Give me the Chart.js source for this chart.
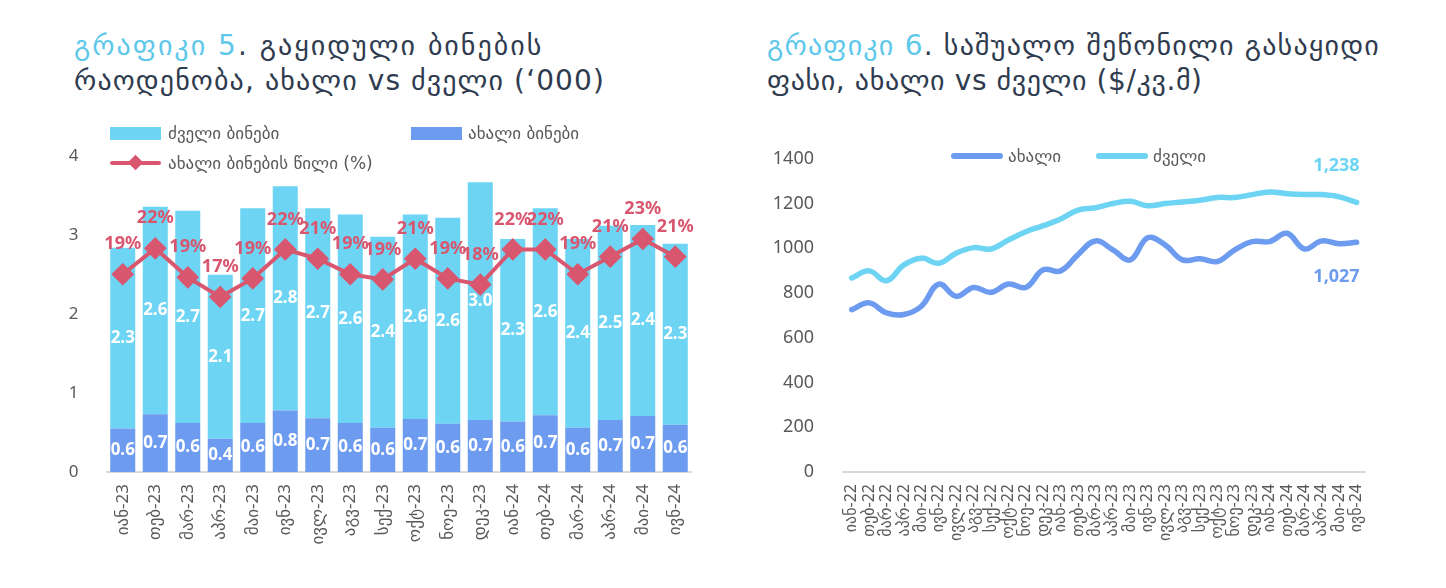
<!DOCTYPE html>
<html lang="ka">
<head>
    <meta charset="UTF-8">
    <title>გაყიდული ბინები და ფასი</title>
    <script src="https://cdn.jsdelivr.net/npm/chart.js"></script>
    <style>
        body { margin: 0; background: #fff; font-family: 'DejaVu Sans', sans-serif; }
        .page { position: relative; width: 1446px; height: 588px; overflow: hidden; }
        .title { position: absolute; font-size: 28px; line-height: 35px; color: #2f3b4f; white-space: nowrap; }
        .title .hl { color: #5ec8ea; }
        .lg { position: absolute; font-size: 17px; color: #595959; white-space: nowrap; line-height: 20px; }
        .sw { position: absolute; }
        canvas { position: absolute; }
    </style>
</head>
<body>
<div class="page">
    <div class="title" style="left:74px; top:28px;"><span style="letter-spacing:2px;"><span class="hl">გრაფიკი 5</span>. გაყიდული ბინების</span><br><span style="letter-spacing:1.1px;">რაოდენობა, ახალი vs ძველი (‘000)</span></div>
    <div class="title" style="left:767px; top:28px;"><span style="letter-spacing:1.2px;"><span class="hl">გრაფიკი 6</span>. საშუალო შეწონილი გასაყიდი</span><br><span style="letter-spacing:0.6px;">ფასი, ახალი vs ძველი ($/კვ.მ)</span></div>

    <canvas id="chart5" width="648" height="454" style="left:60px; top:126px;"></canvas>
    <canvas id="chart6" width="618" height="453" style="left:770px; top:127px;"></canvas>

    <!-- legend, chart 5 -->
    <div class="sw" style="left:110px; top:127px; width:51px; height:13px; background:#6dd4f3;"></div>
    <div class="lg" style="left:168px; top:123px;">ძველი ბინები</div>
    <div class="sw" style="left:411px; top:127px; width:51px; height:13px; background:#6c9bef;"></div>
    <div class="lg" style="left:468px; top:123px;">ახალი ბინები</div>
    <div class="sw" style="left:110px; top:161px; width:51px; height:4px; background:#d9566f; border-radius:2px;"></div>
    <div class="sw" style="left:130px; top:157px; width:11px; height:11px; background:#d9566f; transform:rotate(45deg);"></div>
    <div class="lg" style="left:168px; top:153px;">ახალი ბინების წილი (%)</div>

    <!-- legend, chart 6 -->
    <div class="sw" style="left:951px; top:153px; width:52px; height:6px; background:#6c9bef; border-radius:3px;"></div>
    <div class="lg" style="left:1008px; top:146px;">ახალი</div>
    <div class="sw" style="left:1096px; top:153px; width:52px; height:6px; background:#6dd4f3; border-radius:3px;"></div>
    <div class="lg" style="left:1153px; top:146px;">ძველი</div>
</div>
<script>
    // გრაფიკი 5 — გაყიდული ბინები ('000)
    const months5 = ['იან-23','თებ-23','მარ-23','აპრ-23','მაი-23','ივნ-23','ივლ-23','აგვ-23','სექ-23','ოქტ-23','ნოე-23','დეკ-23',
                     'იან-24','თებ-24','მარ-24','აპრ-24','მაი-24','ივნ-24'];
    const newFlats = [0.55, 0.73, 0.62, 0.42, 0.62, 0.78, 0.68, 0.62, 0.56, 0.67, 0.61, 0.66, 0.64, 0.72, 0.56, 0.66, 0.71, 0.60];
    const oldFlats = [2.29, 2.63, 2.69, 2.08, 2.72, 2.84, 2.66, 2.64, 2.42, 2.59, 2.61, 3.01, 2.31, 2.62, 2.39, 2.46, 2.42, 2.29];
    const newShare = [19.1, 21.6, 18.8, 16.9, 18.7, 21.5, 20.6, 19.1, 18.6, 20.6, 18.7, 18.1, 21.5, 21.5, 19.1, 20.8, 22.5, 20.8];
    const ticks5 = [0, 1, 2, 3, 4];

    // გრაფიკი 6 — საშუალო ფასი ($/კვ.მ)
    const months6 = ['იან-22','თებ-22','მარ-22','აპრ-22','მაი-22','ივნ-22','ივლ-22','აგვ-22','სექ-22','ოქტ-22','ნოე-22','დეკ-22',
                     'იან-23','თებ-23','მარ-23','აპრ-23','მაი-23','ივნ-23','ივლ-23','აგვ-23','სექ-23','ოქტ-23','ნოე-23','დეკ-23',
                     'იან-24','თებ-24','მარ-24','აპრ-24','მაი-24','ივნ-24'];
    const priceNew = [726, 756, 711, 704, 741, 840, 785, 825, 803, 840, 825, 904, 899, 972, 1033, 993, 948, 1047, 1015, 948,
                      953, 941, 993, 1030, 1030, 1067, 997, 1033, 1020, 1027];
    const priceOld = [867, 899, 855, 926, 956, 933, 978, 1003, 997, 1037, 1074, 1101, 1131, 1171, 1181, 1200, 1210, 1190, 1200, 1207,
                      1215, 1227, 1227, 1240, 1252, 1244, 1240, 1240, 1230, 1205];
    const endLabels = ['1,027', '1,238'];
    const ticks6 = [0, 200, 400, 600, 800, 1000, 1200, 1400];

    const FONT = "'Noto Sans', 'DejaVu Sans', sans-serif";
    const GREY = '#595959';
    const C_NEW = '#6c9bef', C_OLD = '#6dd4f3', C_SHARE = '#d9566f';

    Chart.defaults.devicePixelRatio = 1;
    Chart.defaults.animation = false;

    const xAxis = (h, size) => ({
        grid: { display: false, drawTicks: false },
        border: { display: true, color: '#d9d9d9', width: 2 },
        ticks: { color: GREY, font: { family: FONT, size: size }, minRotation: 90, maxRotation: 90, autoSkip: false, padding: 12 },
        afterFit: s => { s.height = h; }
    });

    // data labels: centred on bar segments, above the share line
    const barLabels = {
        id: 'barLabels',
        afterDatasetsDraw(chart) {
            const ctx = chart.ctx;
            ctx.save();
            ctx.textAlign = 'center';
            ctx.textBaseline = 'middle';
            chart.data.datasets.forEach((ds, i) => {
                const meta = chart.getDatasetMeta(i);
                meta.data.forEach((el, j) => {
                    const v = ds.data[j];
                    if (ds.type === 'line') {
                        ctx.fillStyle = C_SHARE;
                        ctx.font = 'bold 18px ' + FONT;
                        ctx.fillText(Math.round(v) + '%', el.x, el.y - 30);
                    } else {
                        ctx.fillStyle = '#fff';
                        ctx.font = 'bold 17px ' + FONT;
                        ctx.fillText(v.toFixed(1), el.x, (el.y + el.base) / 2);
                    }
                });
            });
            ctx.restore();
        }
    };

    new Chart(document.getElementById('chart5'), {
        data: {
            labels: months5,
            datasets: [
                { type: 'line', label: 'ახალი ბინების წილი (%)', data: newShare, yAxisID: 'y2', order: -1,
                  borderColor: C_SHARE, backgroundColor: C_SHARE, borderWidth: 4, pointStyle: 'rectRot', pointRadius: 8.5, tension: 0 },
                { type: 'bar', label: 'ახალი ბინები', data: newFlats, backgroundColor: C_NEW, stack: 's', barPercentage: 0.77, categoryPercentage: 1 },
                { type: 'bar', label: 'ძველი ბინები', data: oldFlats, backgroundColor: C_OLD, stack: 's', barPercentage: 0.77, categoryPercentage: 1 }
            ]
        },
        options: {
            responsive: false,
            layout: { padding: { top: 20, right: 9, left: 0, bottom: 0 } },
            plugins: { legend: { display: false }, tooltip: { enabled: false } },
            scales: {
                x: Object.assign(xAxis(108, 17), { stacked: true }),
                y: {
                    stacked: true, min: 0, max: 4,
                    grid: { display: false }, border: { display: false },
                    afterBuildTicks: s => { s.ticks = ticks5.map(v => ({ value: v })); },
                    ticks: { color: GREY, font: { family: FONT, size: 17 }, padding: 20 },
                    afterFit: s => { s.width = 46.5; }
                },
                y2: { display: false, min: 0, max: 30.5 }
            }
        },
        plugins: [barLabels]
    });

    // last-value labels on the price lines
    const endValueLabels = {
        id: 'endValueLabels',
        afterDatasetsDraw(chart) {
            const ctx = chart.ctx;
            ctx.save();
            ctx.textAlign = 'right';
            ctx.textBaseline = 'middle';
            ctx.font = 'bold 18px ' + FONT;
            chart.data.datasets.forEach((ds, i) => {
                const pts = chart.getDatasetMeta(i).data;
                const last = pts[pts.length - 1];
                ctx.fillStyle = ds.borderColor;
                ctx.fillText(endLabels[i], last.x + 3, i === 0 ? last.y + 35 : last.y - 37);
            });
            ctx.restore();
        }
    };

    new Chart(document.getElementById('chart6'), {
        type: 'line',
        data: {
            labels: months6,
            datasets: [
                { label: 'ახალი', data: priceNew, borderColor: C_NEW, borderWidth: 5.5, pointRadius: 0, tension: 0.4, borderCapStyle: 'round' },
                { label: 'ძველი', data: priceOld, borderColor: C_OLD, borderWidth: 5.5, pointRadius: 0, tension: 0.4, borderCapStyle: 'round' }
            ]
        },
        options: {
            responsive: false,
            layout: { padding: { top: 20, right: 9, left: 0, bottom: 0 } },
            plugins: { legend: { display: false }, tooltip: { enabled: false } },
            scales: {
                x: Object.assign(xAxis(108, 16), { offset: true }),
                y: {
                    min: 0, max: 1400,
                    grid: { display: false }, border: { display: false },
                    afterBuildTicks: s => { s.ticks = ticks6.map(v => ({ value: v })); },
                    ticks: { color: GREY, font: { family: FONT, size: 18 }, padding: 21, callback: v => String(v) },
                    afterFit: s => { s.width = 73; }
                }
            }
        },
        plugins: [endValueLabels]
    });
</script>
</body>
</html>
